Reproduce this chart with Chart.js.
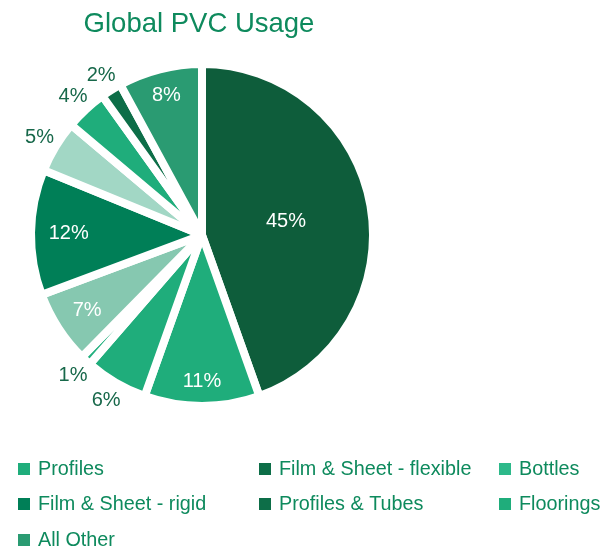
<!DOCTYPE html>
<html lang="en">
<head>
  <meta charset="UTF-8">
  <title>Global PVC Usage</title>
  <style>
    html, body {
      margin: 0;
      padding: 0;
      background: #ffffff;
    }
    canvas {
      display: block;
    }
  </style>
</head>
<body>

  <canvas id="pvcChart" width="609" height="556"></canvas>

  <script src="https://cdn.jsdelivr.net/npm/chart.js"></script>
  <script>
    // Slices, clockwise from 12 o'clock (percent shown on each slice)
    const sliceValues = [45, 11, 6, 1, 7, 12, 5, 4, 2, 8];
    const sliceColors = ['#0e5d3b', '#1fad7b', '#1fad7b', '#22b07e', '#86c8b0',
                         '#007f57', '#a2d7c5', '#1fad7b', '#0d6e48', '#2a9b72'];

    // Legend entries as shown under the chart
    const legendLabels = ['Profiles', 'Film & Sheet - flexible', 'Bottles',
                          'Film & Sheet - rigid', 'Profiles & Tubes', 'Floorings',
                          'All Other'];
    const legendColors = ['#1fad7b', '#0d6e48', '#2db98a',
                          '#007f57', '#0d6e48', '#1fad7b',
                          '#2a9b72'];

    const chartTitle = 'Global PVC Usage';
    const FONT = '"Liberation Sans", Arial, Helvetica, sans-serif';

    // percent labels: big slices inside (white), small ones outside (green)
    const sliceLabelPlugin = {
      id: 'sliceLabels',
      afterDatasetsDraw(chart) {
        const ctx = chart.ctx;
        const arcs = chart.getDatasetMeta(0).data;
        ctx.save();
        ctx.font = '20px ' + FONT;
        ctx.textAlign = 'center';
        ctx.textBaseline = 'middle';
        arcs.forEach((arc, i) => {
          const p = arc.getProps(['x', 'y', 'startAngle', 'endAngle', 'outerRadius'], true);
          const mid = (p.startAngle + p.endAngle) / 2;
          const ux = Math.cos(mid);
          const uy = Math.sin(mid);
          const r = p.outerRadius - 4;
          const v = sliceValues[i];
          let d;
          if (v >= 25) {
            d = r * 0.51;
            ctx.fillStyle = '#ffffff';
          } else if (v >= 7) {
            d = r * 0.87 - 12 * ux * ux;
            ctx.fillStyle = '#ffffff';
          } else {
            d = r + 23;
            ctx.fillStyle = '#17684a';
          }
          ctx.fillText(v + '%', p.x + ux * d, p.y + uy * d + 1);
        });
        ctx.restore();
      }
    };

    // title and the three-column legend
    const frameTextPlugin = {
      id: 'frameText',
      afterDraw(chart) {
        const ctx = chart.ctx;
        ctx.save();
        ctx.fillStyle = '#0e8a5d';
        ctx.font = '27.5px ' + FONT;
        ctx.textAlign = 'center';
        ctx.textBaseline = 'alphabetic';
        ctx.fillText(chartTitle, 199, 32);

        const colX = [18, 259, 499];
        const rowY = [469, 504, 540];
        ctx.font = '19.8px ' + FONT;
        ctx.textAlign = 'left';
        ctx.textBaseline = 'middle';
        legendLabels.forEach((label, i) => {
          const x = colX[i % 3];
          const y = rowY[Math.floor(i / 3)];
          ctx.fillStyle = legendColors[i];
          ctx.fillRect(x, y - 6, 12, 12);
          ctx.fillStyle = '#0e8a5d';
          ctx.fillText(label, x + 20, y + 1);
        });
        ctx.restore();
      }
    };

    const ctx = document.getElementById('pvcChart').getContext('2d');
    new Chart(ctx, {
      type: 'pie',
      data: {
        labels: sliceValues.map(v => v + '%'),
        datasets: [{
          data: sliceValues,
          backgroundColor: sliceColors,
          borderColor: '#ffffff',
          borderWidth: 8,
          hoverBorderWidth: 8,
          borderJoinStyle: 'bevel',
          hoverOffset: 0,
          offset: 0
        }]
      },
      options: {
        responsive: false,
        animation: false,
        events: [],
        layout: {
          padding: { left: 20, right: 225, top: 60, bottom: 146 }
        },
        plugins: {
          legend: { display: false },
          title: { display: false },
          tooltip: { enabled: false }
        }
      },
      plugins: [sliceLabelPlugin, frameTextPlugin]
    });
  </script>

</body>
</html>
